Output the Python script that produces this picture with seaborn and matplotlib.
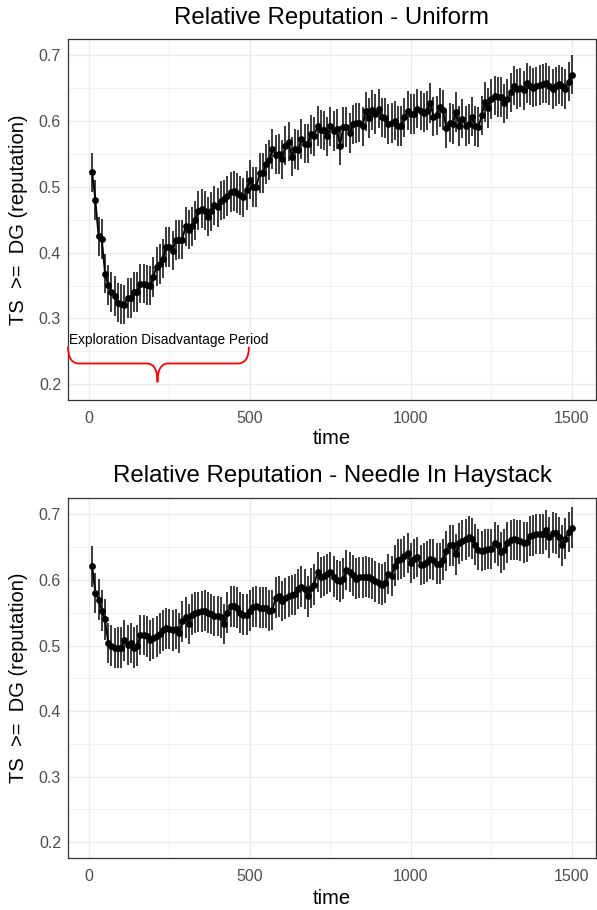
import numpy as np
import pandas as pd
import seaborn as sns
import matplotlib.pyplot as plt
from matplotlib.path import Path
from matplotlib.patches import PathPatch

# time steps (one point every 10 rounds)
times = list(range(10, 1510, 10))

rep_uniform = [
    0.522, 0.480, 0.425, 0.421, 0.368, 0.351, 0.340, 0.334, 0.324, 0.322,
    0.321, 0.331, 0.331, 0.340, 0.340, 0.353, 0.353, 0.351, 0.350, 0.363,
    0.379, 0.383, 0.391, 0.409, 0.409, 0.403, 0.419, 0.420, 0.420, 0.440,
    0.435, 0.440, 0.449, 0.464, 0.467, 0.464, 0.455, 0.463, 0.472, 0.469,
    0.479, 0.481, 0.486, 0.492, 0.494, 0.491, 0.487, 0.484, 0.495, 0.511,
    0.500, 0.500, 0.521, 0.521, 0.535, 0.541, 0.558, 0.549, 0.550, 0.542,
    0.563, 0.569, 0.546, 0.558, 0.556, 0.573, 0.566, 0.566, 0.580, 0.577,
    0.593, 0.587, 0.586, 0.577, 0.592, 0.585, 0.588, 0.563, 0.591, 0.591,
    0.582, 0.595, 0.597, 0.598, 0.592, 0.615, 0.605, 0.617, 0.611, 0.619,
    0.606, 0.605, 0.596, 0.597, 0.601, 0.593, 0.593, 0.606, 0.616, 0.611,
    0.611, 0.619, 0.616, 0.613, 0.616, 0.628, 0.607, 0.609, 0.621, 0.617,
    0.589, 0.598, 0.596, 0.614, 0.593, 0.604, 0.593, 0.596, 0.607, 0.593,
    0.591, 0.609, 0.629, 0.620, 0.634, 0.639, 0.637, 0.637, 0.627, 0.634,
    0.644, 0.654, 0.649, 0.651, 0.647, 0.658, 0.654, 0.651, 0.653, 0.655,
    0.657, 0.658, 0.654, 0.649, 0.653, 0.656, 0.653, 0.649, 0.660, 0.671,
]

rep_needle = [
    0.621, 0.580, 0.570, 0.553, 0.540, 0.504, 0.500, 0.496, 0.497, 0.497,
    0.508, 0.501, 0.504, 0.497, 0.500, 0.516, 0.516, 0.514, 0.508, 0.511,
    0.514, 0.518, 0.523, 0.526, 0.525, 0.523, 0.525, 0.519, 0.537, 0.543,
    0.533, 0.547, 0.550, 0.551, 0.552, 0.553, 0.550, 0.548, 0.545, 0.545,
    0.543, 0.533, 0.550, 0.560, 0.560, 0.558, 0.550, 0.547, 0.547, 0.553,
    0.559, 0.560, 0.558, 0.558, 0.558, 0.553, 0.554, 0.573, 0.575, 0.568,
    0.572, 0.575, 0.577, 0.578, 0.586, 0.590, 0.586, 0.575, 0.588, 0.593,
    0.612, 0.604, 0.606, 0.609, 0.612, 0.605, 0.600, 0.598, 0.602, 0.615,
    0.612, 0.607, 0.602, 0.604, 0.604, 0.605, 0.604, 0.602, 0.598, 0.595,
    0.593, 0.596, 0.609, 0.606, 0.622, 0.631, 0.632, 0.636, 0.641, 0.626,
    0.632, 0.635, 0.623, 0.625, 0.628, 0.632, 0.631, 0.625, 0.625, 0.631,
    0.644, 0.653, 0.653, 0.639, 0.656, 0.660, 0.662, 0.666, 0.663, 0.654,
    0.646, 0.644, 0.646, 0.647, 0.647, 0.657, 0.653, 0.642, 0.646, 0.657,
    0.661, 0.662, 0.661, 0.660, 0.657, 0.658, 0.667, 0.668, 0.670, 0.670,
    0.670, 0.676, 0.665, 0.672, 0.671, 0.665, 0.653, 0.663, 0.673, 0.680,
]

# half width of the error bars
err_uniform = 0.030
err_needle = 0.031

titles = ['Relative Reputation - Uniform', 'Relative Reputation - Needle In Haystack']
ylabel = 'TS  >=  DG (reputation)'
xlabel = 'time'
xticks = [0, 500, 1000, 1500]
yticks = [0.2, 0.3, 0.4, 0.5, 0.6, 0.7]

# brace annotation on the first panel
brace_left, brace_tip, brace_right = -65, 213, 497
brace_top, brace_mid, brace_bottom = 0.257, 0.2315, 0.203
brace_text = 'Exploration Disadvantage Period'

sns.set_theme(style='white')
plt.rcParams['font.family'] = ['Liberation Sans', 'DejaVu Sans']

fig = plt.figure(figsize=(5.97, 9.10), dpi=100)
ax_top = fig.add_axes([68 / 597, 1 - 400 / 910, 528 / 597, 361 / 910])
ax_bot = fig.add_axes([68 / 597, 1 - 858 / 910, 528 / 597, 360 / 910])


def draw_panel(ax, values, err, title, title_y, xlab_y):
    df = pd.DataFrame({'time': times, 'rep': values})
    ax.vlines(df['time'], df['rep'] - err, df['rep'] + err,
              color='#2b2b2b', lw=1.3, zorder=2)
    sns.lineplot(data=df, x='time', y='rep', ax=ax, color='black', lw=1.3,
                 marker='o', markersize=4.9, markeredgewidth=0, zorder=3)
    ax.set_xlim(-65, 1575)
    ax.set_ylim(0.176, 0.725)
    ax.set_xticks(xticks)
    ax.set_yticks(yticks)
    ax.set_xticks([250, 750, 1250], minor=True)
    ax.set_yticks([0.25, 0.35, 0.45, 0.55, 0.65], minor=True)
    ax.grid(True, which='major', color='#EBEBEB', lw=1.0, zorder=0)
    ax.grid(True, which='minor', color='#EBEBEB', lw=0.5, zorder=0)
    ax.set_axisbelow(True)
    for s in ax.spines.values():
        s.set_color('#333333')
        s.set_linewidth(0.9)
    ax.tick_params(which='major', length=3.5, width=0.8, color='#333333',
                   labelcolor='#4D4D4D', labelsize=11.5)
    ax.tick_params(axis='x', which='major', pad=4.5)
    ax.tick_params(axis='y', which='major', pad=1.5)
    ax.tick_params(which='minor', length=0)
    ax.set_xlabel(xlabel, fontsize=14.5, color='black')
    ax.set_ylabel(ylabel, fontsize=14.5, color='black')
    ax.xaxis.set_label_coords(0.5, xlab_y)
    ax.yaxis.set_label_coords(-49 / 528, 0.5)
    ax.xaxis.label.set_va('center')
    ax.yaxis.label.set_va('center')
    ax.text(0.5, title_y, title, transform=ax.transAxes, fontsize=17.3,
            color='black', ha='center', va='center')


draw_panel(ax_top, rep_uniform, err_uniform, titles[0],
           (400 - 18) / 361, (400 - 438) / 361)
draw_panel(ax_bot, rep_needle, err_needle, titles[1],
           (858 - 476) / 360, (858 - 898) / 360)

# curly brace
a, b = 35, 33
verts = [
    (brace_left, brace_top),
    (brace_left, brace_mid), (brace_left + a, brace_mid),
    (brace_tip - b, brace_mid),
    (brace_tip, brace_mid), (brace_tip, brace_bottom),
    (brace_tip, brace_mid), (brace_tip + b, brace_mid),
    (brace_right - a, brace_mid),
    (brace_right, brace_mid), (brace_right, brace_top),
]
codes = [Path.MOVETO,
         Path.CURVE3, Path.CURVE3,
         Path.LINETO,
         Path.CURVE3, Path.CURVE3,
         Path.CURVE3, Path.CURVE3,
         Path.LINETO,
         Path.CURVE3, Path.CURVE3]
ax_top.add_patch(PathPatch(Path(verts, codes), fill=False, edgecolor='red',
                           lw=1.3, clip_on=False, zorder=4))
ax_top.text(brace_left + 3, 0.268, brace_text, fontsize=9.8, color='black',
            ha='left', va='center', zorder=5)

fig.savefig('out.png', dpi=100)
